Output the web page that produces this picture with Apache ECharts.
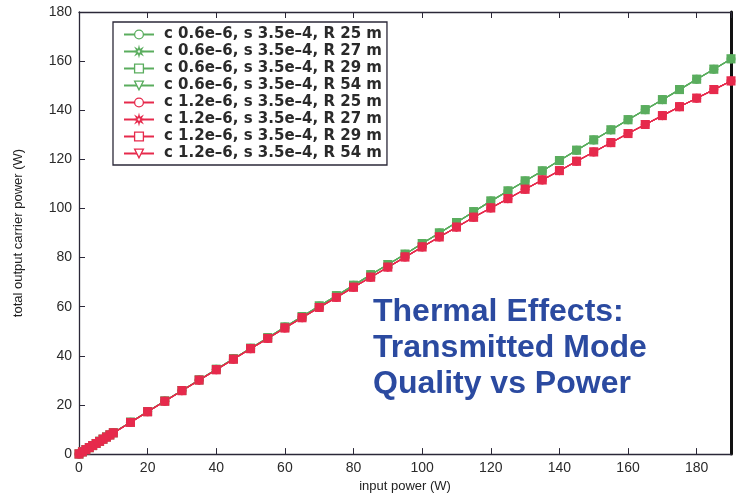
<!DOCTYPE html>
<html>
<head>
<meta charset="utf-8">
<script src="https://cdn.jsdelivr.net/npm/echarts@6/dist/echarts.min.js"></script>
<style>
  html, body { margin: 0; padding: 0; background: #fff; }
  #chart { width: 740px; height: 498px; }
</style>
</head>
<body>
<div id="chart"></div>
<script>
// input power (W)
const xData = [0, 1, 2, 3, 4, 5, 6, 7, 8, 9, 10,
  15, 20, 25, 30, 35, 40, 45, 50, 55, 60, 65, 70, 75, 80, 85, 90, 95, 100,
  105, 110, 115, 120, 125, 130, 135, 140, 145, 150, 155, 160, 165, 170, 175, 180, 185, 190]
// total output carrier power (W), c 0.6e-6
const greenData = [0, 0.87, 1.73, 2.6, 3.46, 4.33, 5.19, 6.06, 6.92, 7.79, 8.65,
  13.0, 17.3, 21.6, 25.9, 30.2, 34.5, 38.8, 43.1, 47.4, 51.7, 56.0, 60.3, 64.5, 68.7, 73.0, 77.2, 81.4, 85.7,
  90.0, 94.3, 98.7, 103.0, 107.1, 111.2, 115.3, 119.5, 123.7, 127.9, 132.0, 136.1, 140.2, 144.3, 148.4, 152.6, 156.7, 160.9]
// c 1.2e-6
const redData = [0, 0.87, 1.73, 2.6, 3.46, 4.32, 5.18, 6.04, 6.9, 7.76, 8.62,
  12.9, 17.2, 21.5, 25.8, 30.1, 34.3, 38.6, 42.9, 47.1, 51.3, 55.5, 59.7, 63.8, 67.9, 72.0, 76.1, 80.2, 84.3,
  88.4, 92.4, 96.4, 100.2, 104.0, 107.8, 111.6, 115.4, 119.2, 123.0, 126.8, 130.5, 134.2, 137.8, 141.4, 144.9, 148.4, 151.9]
const legendArr = [
  'c 0.6e–6, s 3.5e–4, R 25 m',
  'c 0.6e–6, s 3.5e–4, R 27 m',
  'c 0.6e–6, s 3.5e–4, R 29 m',
  'c 0.6e–6, s 3.5e–4, R 54 m',
  'c 1.2e–6, s 3.5e–4, R 25 m',
  'c 1.2e–6, s 3.5e–4, R 27 m',
  'c 1.2e–6, s 3.5e–4, R 29 m',
  'c 1.2e–6, s 3.5e–4, R 54 m'
]
const noteText = 'Thermal Effects:\nTransmitted Mode\nQuality vs Power'

const GREEN = '#5aad5e'
const RED = '#e62a4c'
const AXIS = '#2b2838'
const starPath = 'path://M5,0 L5.8,3.1 L8.5,1.5 L6.9,4.2 L10,5 L6.9,5.8 L8.5,8.5 L5.8,6.9 L5,10 L4.2,6.9 L1.5,8.5 L3.1,5.8 L0,5 L3.1,4.2 L1.5,1.5 L4.2,3.1 Z'
const markers = [
  { symbol: 'circle', rotate: 0 },
  { symbol: starPath, rotate: 0 },
  { symbol: 'rect', rotate: 0 },
  { symbol: 'triangle', rotate: 180 }
]

const chart = echarts.init(document.getElementById('chart'))

function pairs(ys) {
  return xData.map((x, i) => [x, ys[i]])
}

const series = []
const legendData = []
legendArr.forEach((name, i) => {
  const color = i < 4 ? GREEN : RED
  const m = markers[i % 4]
  series.push({
    name: name,
    type: 'line',
    data: pairs(i < 4 ? greenData : redData),
    symbol: m.symbol,
    symbolRotate: m.rotate,
    symbolSize: 9,
    showAllSymbol: true,
    animation: false,
    lineStyle: { color: color, width: 1.2 },
    itemStyle: { color: color }
  })
  legendData.push({
    name: name,
    itemStyle: { color: '#fff', borderColor: color, borderWidth: 1.3 }
  })
})

const tickLabel = { color: '#2a2a2a', fontSize: 14, fontFamily: 'Liberation Sans' }

chart.setOption({
  backgroundColor: '#fff',
  animation: false,
  grid: { left: 79, right: 9, top: 12, bottom: 41 },
  legend: {
    orient: 'vertical',
    left: 113,
    top: 22,
    data: legendData,
    itemWidth: 30,
    itemHeight: 11,
    itemGap: 2,
    padding: [5, 5, 4, 10],
    borderColor: AXIS,
    borderWidth: 1.3,
    backgroundColor: '#fff',
    textStyle: { color: '#2a2a2a', fontSize: 15, fontWeight: 'bold', lineHeight: 14, fontFamily: 'DejaVu Sans', padding: [0, 0, 0, 5] }
  },
  graphic: [{
    type: 'text',
    left: 373,
    top: 294,
    z: 100,
    style: {
      text: noteText,
      fill: '#2b4aa0',
      font: 'bold 32px "Liberation Sans"',
      lineHeight: 36
    }
  }],
  xAxis: [{
    type: 'value',
    min: 0,
    max: 190,
    interval: 20,
    name: 'input power (W)',
    nameLocation: 'middle',
    nameGap: 24,
    nameTextStyle: { color: '#222', fontSize: 13, fontFamily: 'Liberation Sans' },
    axisLine: { show: true, onZero: false, lineStyle: { color: AXIS, width: 1.3 } },
    axisTick: { show: true, inside: true, length: 6, lineStyle: { color: AXIS } },
    axisLabel: Object.assign({ margin: 7, showMaxLabel: false }, tickLabel),
    splitLine: { show: false }
  }, {
    type: 'value',
    position: 'top',
    min: 0,
    max: 190,
    interval: 20,
    axisLine: { show: true, onZero: false, lineStyle: { color: AXIS, width: 1.3 } },
    axisTick: { show: true, inside: true, length: 6, lineStyle: { color: AXIS } },
    axisLabel: { show: false },
    splitLine: { show: false }
  }],
  yAxis: [{
    type: 'value',
    min: 0,
    max: 180,
    interval: 20,
    name: 'total output carrier power (W)',
    nameLocation: 'middle',
    nameGap: 54,
    nameTextStyle: { color: '#222', fontSize: 13, fontFamily: 'Liberation Sans' },
    axisLine: { show: true, onZero: false, lineStyle: { color: AXIS, width: 1.3 } },
    axisTick: { show: true, inside: true, length: 6, lineStyle: { color: AXIS } },
    axisLabel: Object.assign({ margin: 7 }, tickLabel),
    splitLine: { show: false }
  }, {
    type: 'value',
    position: 'right',
    min: 0,
    max: 180,
    interval: 20,
    axisLine: { show: true, onZero: false, lineStyle: { color: '#111', width: 3 } },
    axisTick: { show: false },
    axisLabel: { show: false },
    splitLine: { show: false }
  }],
  series: series
})
</script>
</body>
</html>
